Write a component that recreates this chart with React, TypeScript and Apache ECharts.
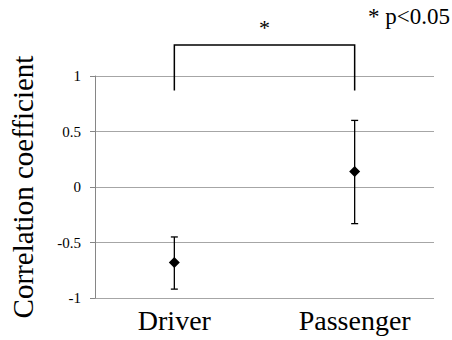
import { useEffect, useRef } from 'react';
import * as echarts from 'echarts';

const categories = ['Driver', 'Passenger'];
const categoryPositions = [0, 1];
const means = [-0.68, 0.14];
const upperBounds = [-0.45, 0.6];
const lowerBounds = [-0.92, -0.33];
const yMin = -1;
const yMax = 1;
const yInterval = 0.5;
const yAxisTitle = 'Correlation coefficient';
const significanceMark = '*';
const significanceNote = '* p<0.05';

const BRACKET_TOP = 1.28;
const BRACKET_BOTTOM = 0.87;
const STAR_Y = 1.44;

export default function App() {
  const ref = useRef<HTMLDivElement>(null);
  useEffect(() => {
    const chart = echarts.init(ref.current!, null, { renderer: 'svg' });
    const serif = '"Liberation Serif", "Times New Roman", serif';
    chart.setOption({
      animation: false,
      grid: { left: 95, right: 18, top: 76, bottom: 42, containLabel: false },
      xAxis: {
        type: 'value',
        min: -0.44,
        max: 1.44,
        axisLine: { show: false },
        axisTick: { show: false },
        splitLine: { show: false },
        axisLabel: {
          customValues: categoryPositions,
          formatter: (v: number) => categories[Math.round(v)] ?? '',
          fontFamily: serif,
          fontSize: 28,
          color: '#000',
          margin: 8,
        },
      },
      yAxis: {
        type: 'value',
        min: yMin,
        max: yMax,
        interval: yInterval,
        name: yAxisTitle,
        nameLocation: 'middle',
        nameGap: 58,
        nameTextStyle: { fontFamily: serif, fontSize: 29, color: '#000' },
        axisLine: { show: true, onZero: false, lineStyle: { color: '#868686', width: 1 } },
        axisTick: { show: true, length: 5, lineStyle: { color: '#868686' } },
        axisLabel: { fontFamily: serif, fontSize: 15, color: '#000', margin: 14 },
        splitLine: { show: true, lineStyle: { color: '#a6a6a6', width: 1 } },
      },
      graphic: [
        {
          type: 'text',
          right: 2,
          top: 5,
          style: { text: significanceNote, font: '23px "Liberation Serif", serif', fill: '#000' },
        },
      ],
      series: [
        {
          type: 'custom',
          name: 'errorbars',
          data: categoryPositions.map((x, i) => [x, lowerBounds[i], upperBounds[i]]),
          encode: { x: 0, y: [1, 2] },
          renderItem: (params: any, api: any) => {
            const x = api.value(0);
            const lo = api.coord([x, api.value(1)]);
            const hi = api.coord([x, api.value(2)]);
            const cap = 3.5;
            const style = { stroke: '#000', lineWidth: 1.3 };
            return {
              type: 'group',
              children: [
                { type: 'line', shape: { x1: lo[0], y1: lo[1], x2: hi[0], y2: hi[1] }, style },
                { type: 'line', shape: { x1: lo[0] - cap, y1: lo[1], x2: lo[0] + cap, y2: lo[1] }, style },
                { type: 'line', shape: { x1: hi[0] - cap, y1: hi[1], x2: hi[0] + cap, y2: hi[1] }, style },
              ],
            };
          },
          z: 2,
        },
        {
          type: 'scatter',
          data: categoryPositions.map((x, i) => [x, means[i]]),
          symbol: 'diamond',
          symbolSize: [11, 11],
          itemStyle: { color: '#000', opacity: 1 },
          z: 3,
        },
        {
          type: 'custom',
          name: 'bracket',
          clip: false,
          data: [[categoryPositions[0], categoryPositions[1]]],
          renderItem: (params: any, api: any) => {
            const x0 = api.value(0);
            const x1 = api.value(1);
            const a = api.coord([x0, BRACKET_BOTTOM]);
            const b = api.coord([x0, BRACKET_TOP]);
            const c = api.coord([x1, BRACKET_TOP]);
            const d = api.coord([x1, BRACKET_BOTTOM]);
            const s = api.coord([(x0 + x1) / 2, STAR_Y]);
            return {
              type: 'group',
              children: [
                {
                  type: 'polyline',
                  shape: { points: [a, b, c, d] },
                  style: { stroke: '#000', lineWidth: 1.5, fill: 'none' },
                },
                {
                  type: 'text',
                  x: s[0],
                  y: s[1],
                  style: {
                    text: significanceMark,
                    font: '22px "Liberation Serif", serif',
                    fill: '#000',
                    align: 'center',
                    verticalAlign: 'middle',
                  },
                },
              ],
            };
          },
          z: 4,
        },
      ],
    });
    return () => chart.dispose();
  }, []);
  return (
    <div
      ref={ref}
      style={{ position: 'absolute', left: 0, top: 0, width: 452, height: 340 }}
    />
  );
}
